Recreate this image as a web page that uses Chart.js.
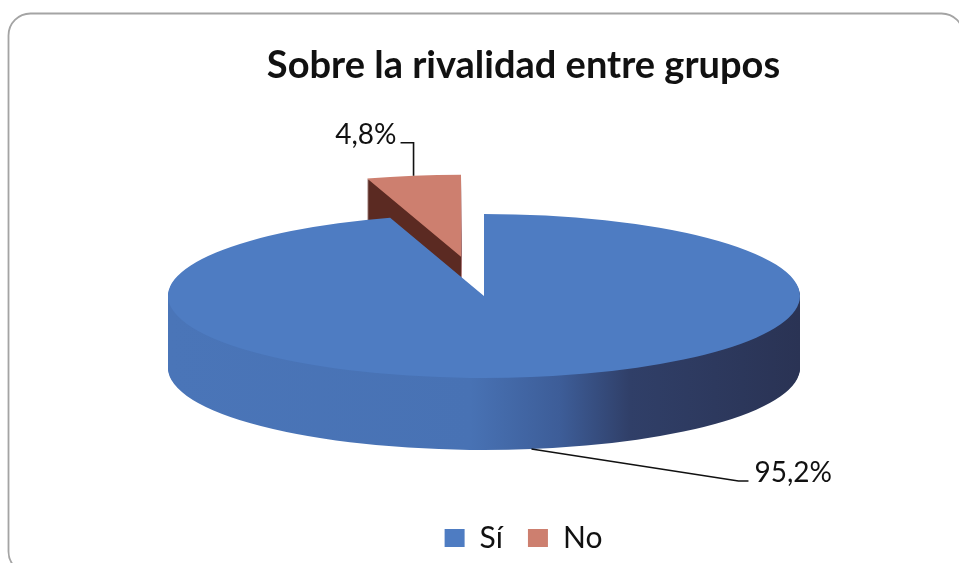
<!DOCTYPE html>
<html>
<head>
<meta charset="utf-8">
<script src="https://cdn.jsdelivr.net/npm/chart.js@4.4.1/dist/chart.umd.min.js"></script>
<style>
  html, body { margin: 0; padding: 0; background: #fff; }
  #wrap { position: relative; width: 959px; height: 563px; }
</style>
</head>
<body>
<div id="wrap"><canvas id="pie"></canvas></div>
<script>
// data
const categories = ['Sí', 'No'];
const percents = [95.2, 4.8];

// colours: top faces and side walls
const topColors = ['#4e7cc2', '#cd7f6f'];
const wallStops = [
    [[170, '#4a75b8'], [470, '#4872b4'], [560, '#3d5d98'], [630, '#303f68'], [800, '#2a3354']],
    [[0, '#5b2a22'], [959, '#5b2a22']]
];

// fake 3d: ellipse centre / flattening / wall height / explode distance (circle units)
const pie3d = { cx: 484, cy: 296, ry: 82, depth: 72, explode: [0, 153] };
// leader line bends, relative to the anchor on the slice
const leaders = [
    { bend: [207, 32], tail: 10, gap: 6 },
    { bend: [0, -33], tail: -13, gap: 4 }
];

function fmtPct(v) {
    return v.toFixed(1).replace('.', ',') + '%';
}

function geom(chart) {
    const arcs = chart.getDatasetMeta(0).data;
    return {
        arcs: arcs,
        k: pie3d.ry / arcs[0].outerRadius,
        shiftX: pie3d.cx - arcs[0].x
    };
}

function place(ctx, g, arc, i, dy) {
    ctx.translate(g.shiftX, pie3d.cy + dy);
    ctx.scale(1, g.k);
    ctx.translate(0, -arc.y);
    const a = (arc.startAngle + arc.endAngle) / 2;
    const e = pie3d.explode[i];
    ctx.translate(Math.cos(a) * e, Math.sin(a) * e);
}

function wallFill(ctx, i, shiftX) {
    const stops = wallStops[i];
    const grad = ctx.createLinearGradient(stops[0][0] - shiftX, 0, stops[stops.length - 1][0] - shiftX, 0);
    const span = stops[stops.length - 1][0] - stops[0][0];
    stops.forEach(s => grad.addColorStop((s[0] - stops[0][0]) / span, s[1]));
    return grad;
}

const framePlugin = {
    id: 'frame',
    beforeDraw(chart) {
        const ctx = chart.ctx;
        ctx.save();
        ctx.strokeStyle = '#a4a4a4';
        ctx.lineWidth = 1.8;
        ctx.beginPath();
        ctx.roundRect(8.5, 13.5, 955, 560, 22);
        ctx.stroke();
        ctx.restore();
    }
};

const pie3dPlugin = {
    id: 'pie3d',
    beforeDatasetsDraw(chart) {
        const ctx = chart.ctx;
        const g = geom(chart);
        // back slice first, then the big front one
        [1, 0].forEach(i => {
            const arc = g.arcs[i];
            const own = arc.options;
            arc.options = Object.assign({}, own, { backgroundColor: wallFill(ctx, i, g.shiftX), borderWidth: 0 });
            for (let d = pie3d.depth; d >= 1; d--) {
                ctx.save();
                place(ctx, g, arc, i, d);
                arc.draw(ctx);
                ctx.restore();
            }
            arc.options = own;
            ctx.save();
            place(ctx, g, arc, i, 0);
            arc.draw(ctx);
            ctx.restore();
        });
        return false;
    },
    afterDraw(chart) {
        const ctx = chart.ctx;
        const g = geom(chart);
        ctx.save();
        ctx.font = '28px Lato';
        ctx.fillStyle = '#111';
        ctx.strokeStyle = '#111';
        ctx.lineWidth = 1.6;
        ctx.textBaseline = 'alphabetic';
        g.arcs.forEach((arc, i) => {
            const a = (arc.startAngle + arc.endAngle) / 2;
            const rr = arc.outerRadius + pie3d.explode[i];
            const sx = arc.x + Math.cos(a) * rr + g.shiftX;
            let sy = pie3d.cy + Math.sin(a) * rr * g.k;
            if (Math.sin(a) > 0) sy += pie3d.depth;
            const L = leaders[i];
            const bx = sx + L.bend[0], by = sy + L.bend[1];
            const tx = bx + L.tail;
            ctx.beginPath();
            ctx.moveTo(sx, sy);
            ctx.lineTo(bx, by);
            ctx.lineTo(tx, by);
            ctx.stroke();
            ctx.textAlign = L.tail > 0 ? 'left' : 'right';
            ctx.fillText(fmtPct(percents[i]), tx + (L.tail > 0 ? L.gap : -L.gap), by + 1);
        });
        ctx.restore();
    }
};

new Chart(document.getElementById('pie'), {
    type: 'pie',
    data: {
        labels: categories,
        datasets: [{
            data: percents,
            backgroundColor: topColors,
            borderWidth: 0,
            radius: 316
        }]
    },
    options: {
        responsive: true,
        maintainAspectRatio: false,
        animation: false,
        events: [],
        radius: 316,
        layout: { padding: { left: 88, bottom: 0 } },
        plugins: {
            title: {
                display: true,
                text: 'Sobre la rivalidad entre grupos',
                color: '#111',
                font: { family: 'Lato', size: 38, weight: 'bold' },
                padding: { top: 43, bottom: 10 }
            },
            legend: {
                position: 'bottom',
                labels: {
                    color: '#111',
                    boxWidth: 20,
                    boxHeight: 18,
                    padding: 25,
                    font: { family: 'Lato', size: 30 }
                }
            },
            tooltip: { enabled: false }
        }
    },
    plugins: [framePlugin, pie3dPlugin]
});
</script>
</body>
</html>
